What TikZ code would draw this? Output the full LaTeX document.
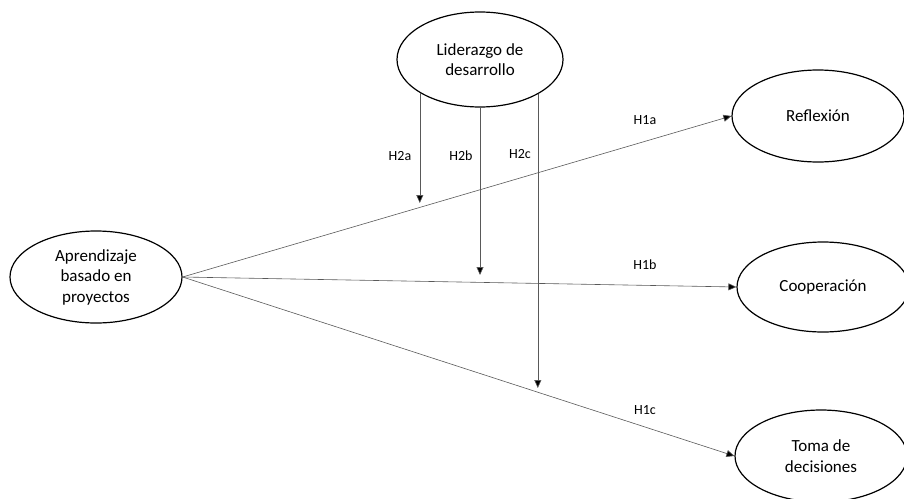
\documentclass[tikz,border=0pt]{standalone}
\usepackage{fontspec}
\setmainfont{Carlito}
\usetikzlibrary{shapes.geometric,arrows.meta}
\begin{document}
\begin{tikzpicture}[x=1pt,y=-1pt,
  construct/.style={ellipse,draw=black,line width=1.2pt,inner sep=0pt,
    minimum width=172pt,minimum height=92pt,align=center,
    font=\fontsize{17}{20.5}\selectfont},
  conn/.style={draw=black!65,line width=0.6pt,
    -{Triangle[length=8pt,width=7pt,fill=black]}},
  hyp/.style={font=\fontsize{14}{16}\selectfont}]
\useasboundingbox (0,0) rectangle (904,498);
\node[construct,minimum width=166pt,minimum height=95pt] (lid) at (480,59.5) {Liderazgo de\\desarrollo};
\node[construct] (abp) at (96,277) {Aprendizaje\\basado en\\proyectos};
\node[construct] (ref) at (818,116) {Reflexión};
\node[construct,minimum height=90pt] (coo) at (823,287) {Cooperación};
\node[construct] (tom) at (821,456) {Toma de\\decisiones};
\coordinate (ha) at (421,203);
\coordinate (hb) at (480,275);
\coordinate (hc) at (538,388);
\draw[conn] (abp.east) -- (ref.west);
\draw[conn] (abp.east) -- (coo.west);
\draw[conn] (abp.east) -- (tom.west);
\draw[conn] (lid.209.5) -- (lid.209.5 |- ha);
\draw[conn] (lid.south) -- (hb);
\draw[conn] (lid.329.6) -- (lid.329.6 |- hc);
\node[hyp] (l2a) at (400,156) {H2a};
\node[hyp] (l2b) at (461,156) {H2b};
\node[hyp] (l2c) at (520,154) {H2c};
\node[hyp] (l1a) at (645,120) {H1a};
\node[hyp] (l1b) at (645,265) {H1b};
\node[hyp] (l1c) at (645,410) {H1c};
\end{tikzpicture}
\end{document}
